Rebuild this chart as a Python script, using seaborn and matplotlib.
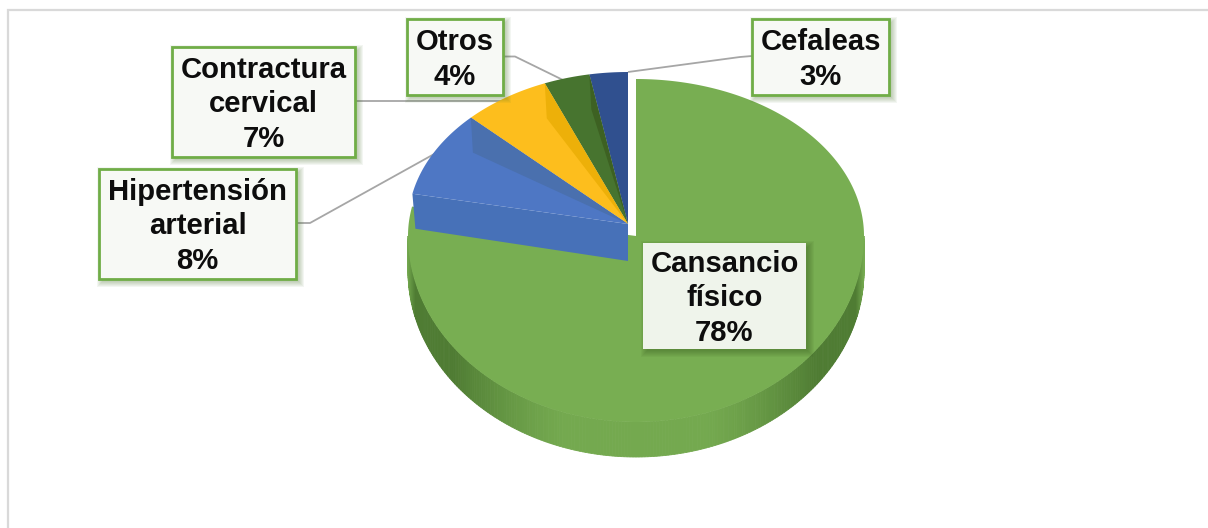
import numpy as np
import matplotlib
matplotlib.use("Agg")
import matplotlib.pyplot as plt
import seaborn as sns
from matplotlib.colors import to_rgb
from matplotlib.patches import Polygon, Rectangle
from matplotlib.path import Path
from matplotlib.transforms import Transform

categories = ["Cansancio\nfísico", "Hipertensión\narterial", "Contractura\ncervical", "Otros", "Cefaleas"]
shares = [78, 8, 7, 4, 3]

slice_colors = sns.color_palette(["#78ae52", "#4e77c4", "#fdbe1d", "#47742f", "#30508f"])
facet_colors = ["#78ae52", "#4a70ae", "#edb009", "#3d6122", None]
blue_wall = "#4771b8"

W, H = 1208, 528
RIM = 35

sns.set_theme(style="white")
plt.rcParams["font.family"] = ["Liberation Sans", "DejaVu Sans"]


class TiltedDisc(Transform):
    """Lays the unit pie on a tilted disc: the far half is foreshortened more than the near
    half, and `skew` pulls mid-quadrant directions towards the vertical as a camera would."""
    input_dims = output_dims = 2

    def __init__(self, cx, cy, rx, far, near, skew=0.0):
        super().__init__()
        self.cx, self.cy, self.rx, self.far, self.near, self.skew = cx, cy, rx, far, near, skew

    def transform_non_affine(self, values):
        xy = np.asarray(values, dtype=float)
        x, y = xy[:, 0], xy[:, 1]
        if self.skew:
            r = np.hypot(x, y)
            phi = np.arctan2(-x, y)
            phi = phi - np.radians(self.skew) * np.sin(2 * phi) ** 2
            x, y = -r * np.sin(phi), r * np.cos(phi)
        return np.column_stack([self.cx + x * self.rx,
                                self.cy - y * np.where(y >= 0, self.far, self.near)])

    def transform_path_non_affine(self, path):
        ring = path.to_polygons(closed_only=True)[0]
        fine = []
        for p, q in zip(ring[:-1], ring[1:]):
            on_arc = abs(np.hypot(*p) - 1) < 0.02 and abs(np.hypot(*q) - 1) < 0.02
            for t in np.linspace(0, 1, 12, endpoint=False):
                v = p + (q - p) * t
                fine.append(v / np.hypot(*v) if on_arc else v)
        fine.append(ring[-1])
        return Path(self.transform_non_affine(fine), closed=True)

    def at(self, degrees):
        a = np.radians(degrees)
        return self.transform_non_affine([[np.cos(a), np.sin(a)]])[0]

    def centre(self):
        return np.array([self.cx, self.cy], dtype=float)


fig = plt.figure(figsize=(W / 100, H / 100), dpi=100, facecolor="white")
ax = fig.add_axes([0, 0, 1, 1])

wedges, _ = ax.pie(shares, colors=slice_colors, startangle=90, counterclock=False,
                   wedgeprops={"linewidth": 0, "edgecolor": "none"})
ax.set_aspect("auto")
ax.set_xlim(0, W)
ax.set_ylim(H, 0)
ax.axis("off")

# Chart area border, cropped at the right and bottom
ax.plot([8, 8, W], [H, 10, 10], color="#d9d9d9", lw=1.6, zorder=0, solid_joinstyle="miter")

main_disc = TiltedDisc(636, 236, 228, 157, 186)
lifted_disc = TiltedDisc(628, 224, 220, 152, 152, skew=5.0)

# Rim of the large slice: darkest towards the sides, fading at the front and at the very ends
rim_dark = np.array(to_rgb("#4f7c33"))
rim_light = np.array(to_rgb("#74a94f"))
angles = np.linspace(180, 360, 241)
for a0, a1 in zip(angles[:-1], angles[1:]):
    p0, p1 = main_disc.at(a0), main_disc.at(a1)
    side = abs(np.cos(np.radians((a0 + a1) / 2)))
    weight = min(1, max(0, (side - 0.3) / 0.5)) ** 1.4 * min(1, (1 - side) / 0.035)
    col = rim_light + (rim_dark - rim_light) * weight
    ax.add_patch(Polygon([p0, p1, p1 + (0, RIM), p0 + (0, RIM)], closed=True,
                         fc=col, ec=col, lw=0.6, zorder=1))

wedges[0].set_transform(main_disc + ax.transData)
wedges[0].set_zorder(2)

# Front wall of the lifted blue slice
outer = lifted_disc.at(wedges[1].theta2)
apex = lifted_disc.centre()
ax.add_patch(Polygon([outer, outer + (3, RIM), apex + (0, RIM + 2), apex], closed=True,
                     fc=blue_wall, lw=0, zorder=3))

for w in wedges[1:]:
    w.set_transform(lifted_disc + ax.transData)
    w.set_zorder(4)

# Inner walls seen through the lifted slices
for w, col in zip(wedges[1:], facet_colors[1:]):
    if col is None:
        continue
    edge = lifted_disc.at(w.theta1)
    ax.add_patch(Polygon([edge, edge + (2, RIM), apex], closed=True, fc=col, lw=0, zorder=5))

# Leader lines run from the label boxes to the slices
leaders = [
    [(296, 223), (310, 223), (436, 153)],
    [(355, 101), (504, 101)],
    [(503, 56.5), (515, 56.5), (563, 80)],
    [(752, 56), (740, 57), (628, 72)],
]
for pts in leaders:
    xs, ys = zip(*pts)
    ax.plot(xs, ys, color="#a6a6a6", lw=1.3, zorder=3.5, solid_capstyle="butt")


def label_box(x0, y0, x1, y1, text, face, edge=None, shadow="#3f6b22"):
    # Soft drop shadow built from stacked translucent rectangles
    for grow in np.arange(5, -1.5, -1):
        ax.add_patch(Rectangle((x0 + 3 - grow, y0 + 3 - grow), x1 - x0 + 2 * grow, y1 - y0 + 2 * grow,
                               fc=shadow, alpha=0.06, lw=0, zorder=6))
    ax.add_patch(Rectangle((x0, y0), x1 - x0, y1 - y0, fc=face,
                           ec=edge if edge else "none", lw=2.0 if edge else 0, zorder=7))
    ax.text((x0 + x1) / 2, (y0 + y1) / 2 + 2.5, text, ha="center", va="center", fontsize=21.1,
            fontweight="bold", color="#0d0d0d", linespacing=1.28, zorder=8)


box_spots = [
    (643, 243, 806, 349),
    (99, 169, 296, 279),
    (172, 47, 355, 157),
    (407, 19, 503, 95),
    (752, 19, 889, 95),
]
for i, (name, share, spot) in enumerate(zip(categories, shares, box_spots)):
    text = f"{name}\n{share}%"
    if i == 0:
        label_box(*spot, text, "#eff4eb", shadow="#2f5218")
    else:
        label_box(*spot, text, "#f7f9f5", edge="#70ad47")

fig.savefig("out.png", dpi=100)
